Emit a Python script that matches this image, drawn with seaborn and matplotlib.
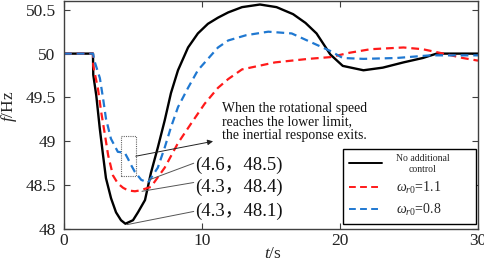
import matplotlib
matplotlib.use("Agg")
import matplotlib.pyplot as plt
import seaborn as sns
import pandas as pd
from matplotlib.patches import Rectangle

# ---------------- data ----------------
t_black = [0, 2.1, 2.12, 2.34, 2.59, 2.83, 3.04, 3.41, 3.77, 4.13, 4.45, 5.0, 5.36, 5.87,
           6.3, 6.8, 7.3, 7.75, 8.26, 8.99, 9.7, 10.43, 11.16, 11.9, 12.9, 14.2, 15.4,
           16.6, 17.5, 18.3, 19.3, 20.2, 21.7, 23.1, 24.6, 26.0, 27.0, 30]
f_black = [50, 50, 49.76, 49.52, 49.15, 48.84, 48.58, 48.35, 48.19, 48.10, 48.06, 48.10, 48.19, 48.33,
           48.64, 48.93, 49.24, 49.55, 49.81, 50.07, 50.23, 50.34, 50.41, 50.47, 50.53, 50.56, 50.53,
           50.45, 50.35, 50.23, 49.99, 49.86, 49.81, 49.84, 49.90, 49.95, 50.0, 50.0]

t_red = [0, 2.1, 2.12, 2.46, 2.7, 2.97, 3.2, 3.55, 3.9, 4.28, 4.64, 5.14, 5.5, 6.3, 7.3,
         8.26, 9.2, 10.2, 11.16, 11.9, 12.9, 15.3, 17.7, 19.3, 20.7, 22.2, 24.6, 26.0,
         27.5, 28.9, 30]
f_red = [50, 50, 49.86, 49.60, 49.33, 49.07, 48.84, 48.61, 48.52, 48.47, 48.44, 48.43, 48.44, 48.48, 48.70,
         48.98, 49.20, 49.43, 49.61, 49.71, 49.82, 49.90, 49.94, 49.96, 50.01, 50.05, 50.07, 50.05,
         50.0, 49.95, 49.92]

t_blue = [0, 2.1, 2.2, 2.6, 2.83, 3.04, 3.4, 3.9, 4.4, 4.64, 4.86, 5.14, 5.6, 6.09, 6.8,
          7.3, 7.75, 8.26, 8.99, 9.7, 10.43, 11.16, 11.9, 13.2, 14.8, 16.5, 17.9, 19.3,
          20.2, 21.7, 24.1, 26.5, 30]
f_blue = [50, 50, 49.92, 49.72, 49.49, 49.26, 49.03, 48.88, 48.87, 48.80, 48.73, 48.65, 48.56, 48.53, 48.70,
          48.93, 49.16, 49.39, 49.61, 49.81, 49.94, 50.07, 50.15, 50.21, 50.25, 50.23, 50.13, 50.03,
          49.95, 49.94, 49.95, 49.98, 49.98]

legend_labels = ["No additional\ncontrol", r"$\omega_{r0}$=1.1", r"$\omega_{r0}$=0.8"]
x_ticks = [0, 10, 20, 30]
y_ticks = [48, 48.5, 49, 49.5, 50, 50.5]
y_ticklabels = ["48", "48.5", "49", "49.5", "50", "50.5"]
point_labels = ["(4.6，48.5)", "(4.3，48.4)", "(4.3，48.1)"]
note_text = "When the rotational speed\nreaches the lower limit,\nthe inertial response exits."

# ---------------- style ----------------
sns.set_style("ticks")
plt.rcParams["font.family"] = ["Liberation Serif", "Noto Sans CJK SC"]
plt.rcParams["mathtext.fontset"] = "custom"
plt.rcParams["mathtext.rm"] = "Liberation Serif"
plt.rcParams["mathtext.it"] = "Liberation Serif:italic"

fig = plt.figure(figsize=(4.84, 2.61), dpi=100)
ax = fig.add_axes([64 / 484, 32 / 261, 414 / 484, 228 / 261])

red = "#ff1a1a"
blue = "#1f78d1"

df_b = pd.DataFrame({"t": t_black, "f": f_black})
df_r = pd.DataFrame({"t": t_red, "f": f_red})
df_u = pd.DataFrame({"t": t_blue, "f": f_blue})

sns.lineplot(data=df_b, x="t", y="f", ax=ax, color="black", lw=1.7,
             sort=False, estimator=None, label=legend_labels[0])
sns.lineplot(data=df_r, x="t", y="f", ax=ax, color=red, lw=1.6,
             sort=False, estimator=None, label=legend_labels[1])
sns.lineplot(data=df_u, x="t", y="f", ax=ax, color=blue, lw=1.6,
             sort=False, estimator=None, label=legend_labels[2])
ax.lines[1].set_dashes([3.5, 2.2])
ax.lines[2].set_dashes([3.5, 2.2])

ax.set_xlim(0, 30)
ax.set_ylim(48, 50.6)
ax.set_xticks(x_ticks)
ax.set_xticklabels([str(v) for v in x_ticks])
ax.set_yticks(y_ticks)
ax.set_yticklabels(y_ticklabels)

spine_c = "#404040"
for s in ax.spines.values():
    s.set_color(spine_c)
    s.set_linewidth(1.0)
ax.tick_params(axis="both", direction="in", length=4, width=0.8, color=spine_c,
               labelsize=12.5, top=True, right=True, labelcolor="#222222")
ax.tick_params(axis="y", pad=6)
ax.tick_params(axis="x", pad=3)

ax.set_xlabel(r"$t$/s", fontsize=12.5)
ax.set_ylabel(r"$f$/Hz", fontsize=12.5)
ax.xaxis.set_label_coords(0.505, -0.075)
ax.yaxis.set_label_coords(-0.108, 0.54)

# ---------------- annotations ----------------
ax.add_patch(Rectangle((4.13, 48.6), 1.09, 0.46, fill=False, ls=(0, (1, 1)),
                       ec="#666666", lw=0.8))
ax.annotate("", xy=(10.8, 49.0), xytext=(5.2, 48.83),
            arrowprops=dict(arrowstyle="-|>", color="#222222", lw=0.7,
                            mutation_scale=8, shrinkA=0, shrinkB=0))
line_kw = dict(arrowstyle="-", color="#555555", lw=0.7, shrinkA=0, shrinkB=0)
ax.annotate("", xy=(9.4, 48.75), xytext=(6.16, 48.56), arrowprops=line_kw)
ax.annotate("", xy=(9.4, 48.53), xytext=(5.65, 48.43), arrowprops=line_kw)
ax.annotate("", xy=(9.4, 48.2), xytext=(4.57, 48.05), arrowprops=line_kw)

for lbl, yv in zip(point_labels, [48.73, 48.47, 48.20]):
    ax.text(9.5, yv, lbl, fontsize=13.5, ha="left", va="center", color="#111111")

ax.text(11.45, 49.22, note_text, fontsize=9.9, ha="left", va="center",
        linespacing=1.05, color="#111111")

# ---------------- legend ----------------
leg = ax.legend(loc="lower left", bbox_to_anchor=(0.674, 0.022, 0.321, 0.31),
                mode="expand", borderaxespad=0,
                fancybox=False, edgecolor="black", framealpha=1, fontsize=10,
                handlelength=2.4, handletextpad=1.0, labelspacing=0.45,
                borderpad=0.4)
leg.get_frame().set_linewidth(1.0)
texts = leg.get_texts()
texts[0].set_fontsize(7)
texts[0].set_multialignment("center")
for h in leg.get_lines():
    h.set_linewidth(1.4)

fig.savefig("out.png", dpi=100)
